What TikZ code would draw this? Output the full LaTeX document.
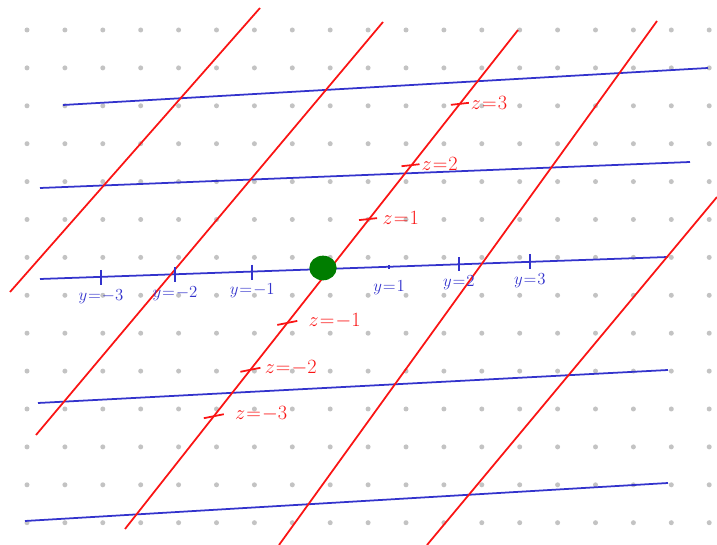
\documentclass[tikz,border=0pt]{standalone}
\usetikzlibrary{positioning}
\definecolor{penblue}{RGB}{51,51,204}
\definecolor{penred}{RGB}{250,20,20}
\definecolor{pengreen}{RGB}{0,125,0}
\definecolor{dotgray}{RGB}{195,195,195}
\newcommand{\eqlab}[2]{$#1\mkern1mu{=}\mkern1mu{#2}$}
\begin{document}
\begin{tikzpicture}[x=0.03cm,y=-0.03cm,
  bline/.style={penblue,line width=1.5pt},
  rline/.style={penred,line width=1.5pt},
  btick/.style={penblue,line width=1.5pt},
  rtick/.style={penred,line width=1.5pt},
  ylab/.style={penblue,font=\Large,inner sep=1pt},
  zlab/.style={penred,font=\LARGE,anchor=west,inner sep=1pt}]
\useasboundingbox (0,0) rectangle (717,545);
\foreach \i in {0,...,18}
  \foreach \j in {0,...,13}
    \fill[dotgray] (27+37.9*\i,30+37.9*\j) circle[radius=0.075cm];
% planes y = const
\coordinate (b1s) at (63,105);  \coordinate (b1e) at (708,68);
\coordinate (b2s) at (40,188);  \coordinate (b2e) at (690,162);
\coordinate (b3s) at (40,279);  \coordinate (b3e) at (668,257);
\coordinate (b4s) at (38,403);  \coordinate (b4e) at (668,370);
\coordinate (b5s) at (25,521);  \coordinate (b5e) at (668,483);
% planes z = const
\coordinate (r1s) at (10,292);  \coordinate (r1e) at (260,8);
\coordinate (r2s) at (36,435);  \coordinate (r2e) at (383,22);
\coordinate (r3s) at (125,529); \coordinate (r3e) at (518,30);
\coordinate (r4s) at (279,545); \coordinate (r4e) at (657,21);
\coordinate (r5s) at (427,545); \coordinate (r5e) at (717,197);
\foreach \k in {1,...,5}{
  \draw[bline] (b\k s) -- (b\k e);
}
\foreach \k in {1,...,5}{
  \draw[rline] (r\k s) -- (r\k e);
}
\path (b3s) -- (b3e)
  coordinate[pos=0.097] (ym3) coordinate[pos=0.215] (ym2)
  coordinate[pos=0.338] (ym1) coordinate[pos=0.556] (yp1)
  coordinate[pos=0.667] (yp2) coordinate[pos=0.780] (yp3);
\path (r3s) -- (r3e)
  coordinate[pos=0.226] (zm3) coordinate[pos=0.319] (zm2)
  coordinate[pos=0.413] (zm1) coordinate[pos=0.621] (zp1)
  coordinate[pos=0.729] (zp2) coordinate[pos=0.852] (zp3);
\fill[pengreen] (323,268) ellipse[x radius=0.41cm,y radius=0.37cm];
\draw[btick,shift={(ym3)}] (0,-7) -- (0,8) node[ylab,below=2pt] (lym3) {\eqlab{y}{-3}};
\draw[btick,shift={(ym2)}] (0,-7) -- (0,8) node[ylab,below=2pt] (lym2) {\eqlab{y}{-2}};
\draw[btick,shift={(ym1)}] (0,-7) -- (0,8) node[ylab,below=2pt] (lym1) {\eqlab{y}{-1}};
\draw[btick,shift={(yp1)}] (0,-2) -- (0,2) node[ylab,below=8pt] (lyp1) {\eqlab{y}{1}};
\draw[btick,shift={(yp2)}] (0,-7) -- (0,7) node[ylab,below=2pt] (lyp2) {\eqlab{y}{2}};
\draw[btick,shift={(yp3)}] (0,-8) -- (0,7) node[ylab,below=2pt] (lyp3) {\eqlab{y}{3}};
\draw[rtick,shift={(zp3)}] (-9,1) -- (9,-1) node[zlab] (lzp3) {\eqlab{z}{3}};
\draw[rtick,shift={(zp2)}] (-10,1) -- (8,-1) node[zlab] (lzp2) {\eqlab{z}{2}};
\draw[rtick,shift={(zp1)}] (-10,1) -- (8,-1) node[zlab,xshift=3pt] (lzp1) {\eqlab{z}{1}};
\draw[rtick,shift={(zm1)}] (-10,2) -- (10,-2) node[zlab,xshift=8pt] (lzm1) {\eqlab{z}{-1}};
\draw[rtick,shift={(zm2)}] (-10,2) -- (10,-2) node[zlab,xshift=2pt] (lzm2) {\eqlab{z}{-2}};
\draw[rtick,shift={(zm3)}] (-10,2) -- (10,-2) node[zlab,xshift=8pt] (lzm3) {\eqlab{z}{-3}};
\end{tikzpicture}
\end{document}
